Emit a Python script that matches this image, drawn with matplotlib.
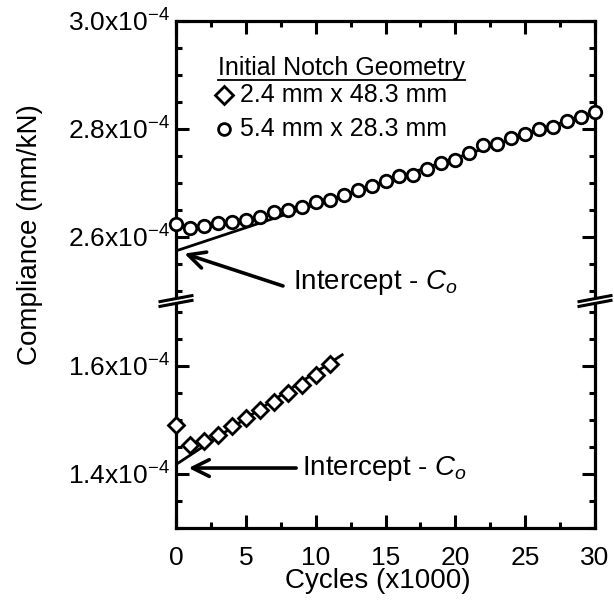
import numpy as np
import matplotlib
matplotlib.use("Agg")
import matplotlib.pyplot as plt
from matplotlib.lines import Line2D
from matplotlib.patches import Polygon
from matplotlib.ticker import FixedLocator, MultipleLocator, FuncFormatter

plt.rcParams['font.family'] = ['Liberation Sans', 'DejaVu Sans']
plt.rcParams['mathtext.fontset'] = 'custom'
plt.rcParams['mathtext.rm'] = 'Liberation Sans'
plt.rcParams['mathtext.it'] = 'Liberation Sans:italic'

# compliance in units of 1e-4 mm/kN, cycles in thousands
cycles_circ = list(range(31))
comp_circ = [2.623, 2.617, 2.620, 2.626, 2.628, 2.632, 2.637, 2.646, 2.650, 2.655,
             2.665, 2.669, 2.677, 2.686, 2.695, 2.703, 2.712, 2.715, 2.725, 2.736,
             2.742, 2.755, 2.770, 2.773, 2.784, 2.790, 2.799, 2.804, 2.814, 2.823,
             2.831]
fit_circ_x = [0, 30]
fit_circ_y = [2.574, 2.832]

cycles_diam = list(range(12))
comp_diam = [1.491, 1.453, 1.461, 1.4725, 1.488, 1.504, 1.5175, 1.533, 1.549,
             1.564, 1.583, 1.604]
fit_diam_x = [0, 11.9]
fit_diam_y = [1.4175, 1.6206]

yticks_top = [2.6, 2.8, 3.0]
yticks_bot = [1.4, 1.6]
label_a = "2.4 mm x 48.3 mm"
label_b = "5.4 mm x 28.3 mm"

W, H = 614, 610
fig = plt.figure(figsize=(W / 100, H / 100), dpi=100)
L, R, T, B, BRK = 176, 595, 21, 528, 300

ax_top = fig.add_axes([L / W, 1 - BRK / H, (R - L) / W, (BRK - T) / H])
ax_bot = fig.add_axes([L / W, 1 - B / H, (R - L) / W, (B - BRK) / H])

fmt = FuncFormatter(lambda v, p: f'{v:.1f}x10$^{{-4}}$')
for ax, yt in ((ax_top, yticks_top), (ax_bot, yticks_bot)):
    ax.set_xlim(0, 30)
    for s in ax.spines.values():
        s.set_linewidth(2.3)
    ax.xaxis.set_major_locator(MultipleLocator(5))
    ax.xaxis.set_minor_locator(MultipleLocator(2.5))
    ax.yaxis.set_major_locator(FixedLocator(yt))
    ax.yaxis.set_minor_locator(MultipleLocator(0.05))
    ax.yaxis.set_major_formatter(fmt)
    ax.tick_params(which='both', direction='in', width=2.2, left=True, right=True,
                   labelsize=19)
    ax.tick_params(which='major', length=9.5, pad=4)
    ax.tick_params(which='minor', length=4.5)

ax_top.set_ylim(2.483, 3.0)
ax_bot.set_ylim(1.30, 1.722)
ax_top.spines['bottom'].set_visible(False)
ax_bot.spines['top'].set_visible(False)
ax_top.tick_params(which='both', bottom=False, top=True, labelbottom=False)
ax_bot.tick_params(which='both', bottom=True, top=False)
ax_bot.tick_params(axis='x', which='major', pad=13)

ax_top.plot(fit_circ_x, fit_circ_y, color='black', lw=2.0, zorder=2)
ax_top.plot(cycles_circ, comp_circ, 'o', ms=9, mfc='white', mec='black', mew=2.0,
            clip_on=False, zorder=4)
ax_bot.plot(fit_diam_x, fit_diam_y, color='black', lw=2.0, zorder=2)
ax_bot.plot(cycles_diam, comp_diam, 'D', ms=8.5, mfc='white', mec='black', mew=2.0,
            clip_on=False, zorder=4)

arrow = dict(arrowstyle='->', lw=2.6, mutation_scale=30, color='black',
             shrinkA=0, shrinkB=0)
ax_top.annotate('', xy=(0.6, 2.569), xytext=(7.66, 2.509), arrowprops=arrow)
ax_top.text(8.38, 2.515, 'Intercept - $C_o$', fontsize=20, va='center', ha='left')
ax_bot.annotate('', xy=(0.9, 1.411), xytext=(8.6, 1.411), arrowprops=arrow)
ax_bot.text(9.02, 1.411, 'Intercept - $C_o$', fontsize=20, va='center', ha='left')

# legend
ttl = ax_top.text(0.100, 0.833, 'Initial Notch Geometry', fontsize=18,
                  transform=ax_top.transAxes, va='center', ha='left')
ax_top.plot([0.1146], [0.736], 'D', ms=9, mfc='white', mec='black', mew=2.0,
            transform=ax_top.transAxes, clip_on=False)
ax_top.text(0.153, 0.736, label_a, fontsize=18, transform=ax_top.transAxes,
            va='center', ha='left')
ax_top.plot([0.1146], [0.612], 'o', ms=8.5, mfc='white', mec='black', mew=2.0,
            transform=ax_top.transAxes, clip_on=False)
ax_top.text(0.153, 0.612, label_b, fontsize=18, transform=ax_top.transAxes,
            va='center', ha='left')

fig.canvas.draw()
bb = ttl.get_window_extent().transformed(ax_top.transAxes.inverted())
ax_top.add_line(Line2D([bb.x0, bb.x1], [0.788, 0.788], color='black', lw=1.3,
                       transform=ax_top.transAxes))

# axis break marks
def fp(px, py):
    return (px / W, 1 - py / H)

for xc in (L, R):
    yc = BRK + 1
    hw, dy, g = 16, 3.0, 2.4
    mask = Polygon([fp(xc - hw, yc + dy + g), fp(xc + hw, yc - dy + g),
                    fp(xc + hw, yc - dy - g), fp(xc - hw, yc + dy - g)],
                   closed=True, facecolor='white', edgecolor='none',
                   transform=fig.transFigure, zorder=10)
    fig.patches.append(mask)
    for off in (-g, g):
        p0 = fp(xc - hw, yc + dy + off)
        p1 = fp(xc + hw, yc - dy + off)
        fig.lines.append(Line2D([p0[0], p1[0]], [p0[1], p1[1]], color='black',
                                lw=2.2, transform=fig.transFigure, zorder=11))

fig.text(30 / W, 1 - 235 / H, 'Compliance (mm/kN)', fontsize=20, rotation=90,
         va='center', ha='center')
fig.text(378 / W, 1 - 581 / H, 'Cycles (x1000)', fontsize=20, va='center',
         ha='center')

fig.savefig('out.png', dpi=100)
